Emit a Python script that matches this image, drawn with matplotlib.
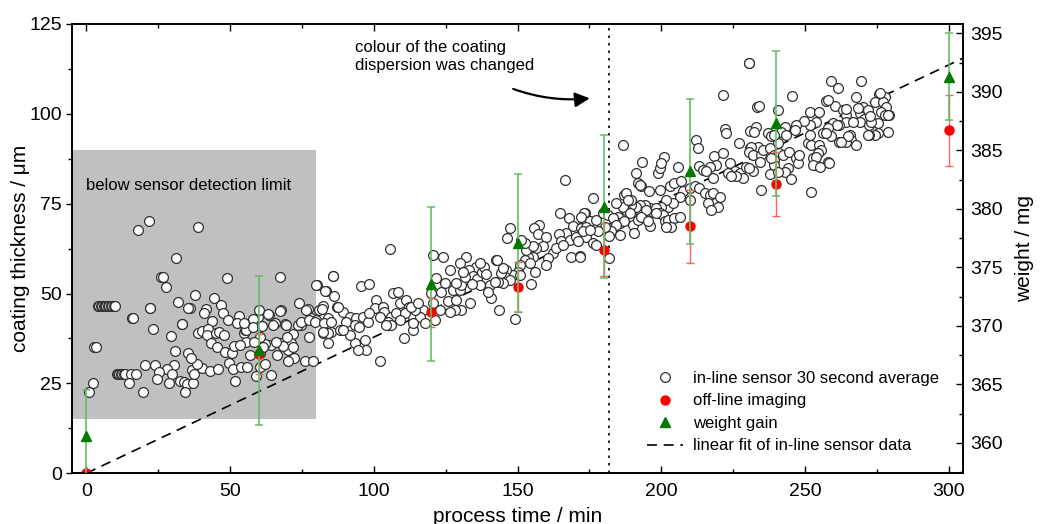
import matplotlib.pyplot as plt
import numpy as np
from matplotlib.lines import Line2D
from matplotlib.patches import Rectangle
from matplotlib.ticker import MultipleLocator

plt.rcParams['font.family'] = ['Liberation Sans', 'DejaVu Sans']

# in-line sensor 30 s averages: (process time / min, coating thickness / um)
inline_pts = [
    # start-up, sensor output stuck in places
    (0.8, 22.6), (2.4, 25.2), (2.8, 35.1), (3.5, 35.1),
    (4.0, 46.5), (4.5, 46.5), (5.0, 46.5), (5.5, 46.5), (6.0, 46.5), (6.5, 46.5), (7.0, 46.5),
    (7.5, 46.5), (8.0, 46.5), (8.5, 46.5), (9.0, 46.5), (9.5, 46.5), (10.0, 46.5),
    (10.5, 27.6), (11.0, 27.6), (11.5, 27.6), (12.0, 27.6), (12.5, 27.6), (13.0, 27.6),
    (13.5, 27.6), (15.5, 27.6), (17.4, 27.6),
    (14.7, 25.2), (15.8, 43.3), (16.2, 43.3), (18.1, 67.7), (19.6, 22.6), (20.3, 30.1),
    # 20 - 55 min
    (21.7, 70.3), (39.0, 68.6), (31.3, 59.9), (25.8, 54.5), (26.6, 54.5), (27.8, 51.7),
    (48.8, 54.4), (37.8, 49.5), (44.3, 48.7), (31.8, 47.6), (36.0, 46.0), (46.9, 46.9),
    (41.5, 45.6), (40.8, 44.7), (47.4, 44.7), (22.3, 46.1), (22.0, 46.1), (23.1, 40.1),
    (33.4, 41.5), (29.6, 38.1), (43.7, 42.5), (49.4, 42.7), (53.2, 43.8), (52.4, 41.7),
    (38.7, 39.1), (40.1, 39.7), (42.4, 40.1), (42.0, 38.4), (45.1, 38.9), (46.3, 39.3),
    (48.0, 38.6), (54.7, 39.1), (55.3, 39.9), (43.4, 36.2), (45.5, 35.0), (48.4, 33.8),
    (50.6, 33.6), (51.3, 35.4), (30.9, 33.9), (35.4, 33.5), (55.4, 36.4), (23.9, 30.1),
    (30.4, 30.2), (28.1, 29.1), (25.3, 28.3), (29.8, 27.6), (24.5, 26.2), (28.9, 25.2),
    (32.5, 25.8), (33.9, 25.3), (35.0, 24.8), (37.0, 25.0), (34.3, 22.7), (36.8, 28.7),
    (37.6, 27.6), (40.1, 29.2), (42.9, 28.4), (45.9, 28.9), (49.8, 30.8), (50.9, 29.0),
    (53.8, 29.5), (51.8, 25.8), (38.5, 30.5), (36.5, 32.0), (35.3, 46.0), (33.3, 41.4),
    # 55 - 85 min
    (67.2, 54.5), (85.9, 54.9), (80.3, 52.3), (83.4, 50.8), (86.3, 49.3), (73.9, 47.3),
    (77.1, 45.8), (67.8, 45.4), (63.7, 44.0), (59.7, 43.6), (57.9, 42.9), (82.3, 46.5),
    (81.1, 45.4), (78.2, 43.1), (80.0, 42.7), (65.8, 41.9), (69.0, 41.4), (71.9, 38.8),
    (74.8, 41.3), (77.6, 38.0), (71.3, 36.2), (67.2, 36.2), (64.3, 35.7), (62.3, 36.0),
    (70.1, 34.3), (72.4, 32.0), (75.9, 31.3), (79.0, 31.1), (70.1, 31.1), (66.4, 32.9),
    (64.3, 27.3), (55.9, 29.6), (53.6, 35.7), (55.6, 39.9), (57.9, 40.8), (54.7, 41.7),
    (60.3, 29.6), (60.3, 33.4), (82.3, 39.0), (85.2, 39.2), (84.0, 36.2), (63.3, 44.2),
    (64.9, 41.2), (67.5, 45.2), (69.3, 41.2), (69.9, 37.8), (73.6, 41.2), (76.5, 45.4),
    (74.7, 42.1), (77.6, 42.6), (79.4, 42.1), (79.9, 52.3), (83.2, 50.7), (85.7, 54.8),
    (82.0, 45.8), (84.0, 43.1), (82.8, 41.7), (85.2, 42.1), (84.0, 38.9), (82.3, 39.2),
    (60.3, 38.0), (61.5, 35.0), (58.5, 36.5), (62.0, 30.5), (68.5, 35.5), (59.0, 27.0),
    (57.0, 33.0), (66.0, 36.5), (72.0, 35.0), (60.0, 45.5), (61.0, 41.0),
    # 85 - 115 min
    (105.8, 62.3), (95.7, 52.0), (98.3, 52.7), (87.3, 46.4), (89.2, 45.0), (91.6, 43.6),
    (93.9, 43.1), (96.2, 43.6), (97.9, 42.2), (100.8, 48.2), (100.3, 45.9), (103.2, 46.4),
    (103.7, 45.0), (106.1, 43.6), (107.8, 44.5), (106.6, 50.1), (108.4, 50.5), (109.0, 47.3),
    (111.3, 48.2), (112.4, 46.4), (114.2, 45.9), (113.6, 43.6), (110.7, 44.5), (88.1, 39.9),
    (93.3, 36.2), (96.8, 37.1), (97.4, 34.3), (94.5, 34.3), (102.0, 31.3), (110.5, 37.6),
    (113.6, 39.9), (90.4, 42.2), (93.3, 41.3), (95.0, 40.8), (91.6, 38.5), (89.2, 39.9),
    (98.5, 44.5), (102.0, 43.6), (104.9, 42.2), (106.1, 41.3), (109.0, 42.7), (104.3, 41.3),
    (87.5, 46.3),
    # 112 - 175 min
    (166.4, 81.6), (147.3, 68.3), (146.5, 65.4), (157.6, 69.1), (155.7, 68.2), (157.1, 66.6),
    (159.8, 65.7), (164.7, 72.5), (167.9, 71.0), (169.3, 68.8), (167.0, 66.8), (164.4, 66.6),
    (165.3, 64.5), (168.2, 65.0), (170.5, 65.8), (173.4, 72.3), (172.8, 70.5), (172.2, 68.2),
    (173.9, 65.8), (171.0, 64.5), (168.7, 60.3), (171.9, 60.5), (162.4, 61.2), (160.6, 59.8),
    (160.0, 58.0), (163.5, 62.6), (165.8, 63.5), (158.9, 63.1), (156.6, 62.6), (155.4, 60.3),
    (153.7, 60.3), (152.5, 59.4), (154.2, 58.4), (153.1, 62.1), (155.4, 63.1), (152.5, 64.0),
    (151.3, 64.9), (150.8, 58.0), (150.2, 56.1), (148.4, 55.2), (150.8, 55.2), (146.1, 56.6),
    (145.5, 54.7), (147.3, 53.8), (145.0, 52.9), (143.2, 53.3), (156.0, 56.1), (154.6, 52.6),
    (149.0, 42.8), (143.5, 45.3), (140.3, 52.4), (140.9, 48.7), (142.6, 59.4), (135.7, 57.5),
    (132.0, 60.3), (124.1, 60.3), (120.6, 60.6), (126.4, 56.6), (124.7, 52.9), (123.5, 50.5),
    (121.8, 54.3), (127.6, 51.0), (129.9, 51.0), (130.5, 52.4), (128.7, 52.9), (120.0, 50.1),
    (120.6, 47.3), (122.9, 45.4), (121.2, 42.7), (117.1, 45.4), (116.0, 43.6), (114.2, 45.4),
    (113.1, 46.4), (115.4, 47.3), (113.7, 41.7), (117.7, 41.7), (125.8, 47.8), (128.7, 48.2),
    (130.5, 45.4), (133.4, 47.5), (128.1, 45.4), (126.4, 45.0), (139.7, 50.5), (142.0, 53.3),
    (144.4, 55.6), (145.0, 57.0), (143.0, 59.3), (133.2, 56.5), (134.5, 55.0), (136.0, 54.0),
    (137.5, 56.0), (138.5, 57.5), (136.8, 52.5), (134.0, 52.8), (131.8, 54.5), (139.0, 55.5),
    (137.0, 58.5), (130.0, 58.5), (131.0, 56.0),
    # 170 - 235 min
    (230.5, 114.1), (221.4, 105.3), (233.3, 102.0), (186.7, 91.3), (193.4, 86.7), (200.9, 88.0),
    (205.8, 85.2), (212.0, 92.6), (212.8, 90.5), (222.3, 95.7), (222.6, 94.8), (227.0, 91.8),
    (231.0, 95.1), (231.0, 90.5), (232.8, 89.5), (218.3, 88.4), (221.4, 89.1), (219.1, 85.8),
    (216.8, 85.3), (213.3, 85.5), (214.5, 84.4), (218.0, 82.1), (215.7, 84.0), (223.8, 86.3),
    (225.5, 84.0), (227.3, 83.5), (228.4, 82.1), (229.6, 85.3), (231.9, 84.0), (226.1, 82.6),
    (223.2, 83.5), (224.4, 82.6), (198.8, 83.5), (199.4, 84.9), (200.0, 86.3), (191.9, 80.7),
    (193.1, 79.8), (191.3, 83.5), (192.6, 80.3), (202.9, 79.8), (204.6, 80.7), (207.0, 81.2),
    (207.5, 78.4), (209.9, 79.3), (211.6, 79.8), (213.3, 79.3), (215.1, 77.9), (216.8, 77.5),
    (218.0, 77.9), (220.3, 77.0), (216.2, 75.1), (219.7, 74.2), (217.4, 73.3), (206.4, 77.0),
    (209.9, 76.1), (202.3, 74.2), (204.1, 75.1), (201.7, 76.1), (200.0, 74.2), (197.1, 72.8),
    (196.0, 73.7), (194.2, 74.7), (192.5, 74.7), (191.3, 74.2), (189.6, 74.7), (187.8, 73.3),
    (186.7, 74.2), (187.2, 77.5), (187.8, 77.9), (189.6, 76.1), (194.8, 73.3), (198.3, 73.7),
    (199.4, 72.4), (200.6, 71.9), (190.2, 71.0), (189.0, 72.4), (185.0, 71.4), (183.8, 69.8),
    (185.5, 69.6), (187.2, 70.1), (190.2, 69.1), (191.9, 70.5), (193.1, 71.4), (196.0, 68.8),
    (198.3, 72.4), (201.2, 70.1), (202.3, 70.5), (204.6, 71.0), (206.4, 71.4), (203.5, 68.6),
    (201.5, 68.6), (190.7, 66.8), (195.4, 70.1), (199.4, 78.9), (176.2, 76.5), (173.3, 72.4),
    (172.2, 71.4), (175.1, 70.1), (177.4, 70.5), (179.7, 72.4), (181.5, 71.9), (183.2, 71.0),
    (184.4, 69.1), (182.6, 67.3), (182.0, 65.9), (185.5, 66.3), (180.3, 68.6), (178.0, 67.3),
    (173.9, 68.6), (172.8, 67.3), (175.1, 67.7), (176.2, 64.0), (177.4, 63.5), (171.6, 60.3),
    (182.0, 59.8), (195.9, 78.4), (188.4, 76.0), (184.3, 75.1),
    # 230 - 280 min
    (230.7, 114.1), (258.9, 109.1), (261.4, 107.3), (269.5, 109.1), (245.5, 105.1), (233.9, 102.3),
    (257.4, 103.6), (260.3, 102.2), (267.8, 104.8), (275.9, 105.4), (277.7, 104.8), (274.2, 103.2),
    (277.1, 103.2), (278.2, 102.0), (251.6, 100.4), (255.0, 100.6), (263.2, 101.1), (264.3, 99.7),
    (269.0, 100.1), (270.1, 102.0), (271.9, 101.1), (270.7, 98.7), (269.0, 97.8), (272.4, 96.9),
    (276.5, 100.6), (277.7, 99.7), (279.4, 99.7), (278.8, 95.0), (275.3, 94.6), (274.2, 94.1),
    (272.4, 94.1), (275.3, 97.4), (264.3, 97.8), (262.0, 96.9), (259.7, 97.4), (261.1, 96.9),
    (258.0, 96.0), (256.2, 94.6), (253.9, 97.8), (251.6, 96.9), (249.6, 98.0), (246.9, 96.9),
    (246.4, 95.5), (242.9, 96.4), (241.7, 95.0), (243.5, 94.1), (240.6, 91.8), (237.1, 94.6),
    (238.2, 93.9), (233.0, 96.4), (232.4, 95.0), (233.6, 90.9), (231.3, 90.9), (230.7, 89.5),
    (231.9, 88.5), (234.8, 88.5), (235.3, 89.9), (237.7, 90.4), (239.4, 88.5), (241.1, 89.0),
    (242.3, 88.5), (244.6, 89.5), (246.9, 87.6), (247.5, 86.2), (244.0, 84.8), (242.9, 83.9),
    (245.2, 82.0), (248.1, 88.5), (251.0, 91.8), (252.1, 91.3), (251.6, 94.1), (255.0, 91.3),
    (255.6, 89.9), (252.7, 87.6), (253.9, 85.8), (258.0, 86.7), (258.5, 86.2), (262.0, 92.2),
    (265.5, 94.1), (266.1, 92.7), (267.8, 91.3), (264.3, 92.2), (237.7, 83.4), (234.8, 78.8),
    (252.1, 78.3), (239.4, 87.1), (239.4, 85.8), (240.6, 83.9), (238.2, 87.6), (240.6, 101.1),
    (239.4, 94.1), (234.2, 86.7), (230.7, 84.8), (276.0, 105.7), (278.9, 99.7), (273.1, 97.8),
    (271.9, 94.1), (266.7, 97.8), (264.9, 93.8), (262.6, 92.3), (259.2, 93.7), (257.4, 94.6),
    (258.0, 103.9), (264.4, 101.3), (268.4, 101.5), (272.5, 99.4), (254.5, 89.0), (253.9, 88.1),
    (252.8, 85.8), (255.1, 85.3),
]

# linear fit of the in-line data (end points)
fit_t = [0, 305]
fit_um = [0, 115.5]

# off-line imaging (um, left axis)
offline_t = [0, 60, 120, 150, 180, 210, 240, 300]
offline_um = [0, 33.1, 44.8, 51.8, 62.2, 68.7, 80.5, 95.4]
offline_err = [0, 5.6, 4.0, 6.9, 7.4, 10.2, 8.8, 9.8]

# weight gain (mg, right axis)
weight_t = [0, 60, 120, 150, 180, 210, 240, 300]
weight_mg = [360.6, 367.9, 373.6, 377.1, 380.2, 383.2, 387.3, 391.3]
weight_err = [3.9, 6.4, 6.6, 5.9, 6.1, 6.2, 6.2, 3.7]

change_t = 181.8  # colour of dispersion changed

pts = np.array(inline_pts)

fig = plt.figure(figsize=(10.4, 5.24), dpi=100)
ax = fig.add_axes([0.0692, 0.0968, 0.8568, 0.8574])
ax2 = ax.twinx()

ax.set_xlim(-5, 305)
ax.set_ylim(0, 125)
ax2.set_ylim(357.4, 395.8)

# grey "below detection limit" region
ax.add_patch(Rectangle((-5, 15), 85, 75, facecolor='#c0c0c0', edgecolor='none', zorder=0))
ax.text(0, 80.2, "below sensor detection limit", fontsize=12, va='center', ha='left')

ax.plot(fit_t, fit_um, color='black', ls=(0, (6, 4)), lw=1.2, zorder=2)
ax.scatter(pts[:, 0], pts[:, 1], s=50, facecolor='white', edgecolor='#303030', lw=0.9, zorder=3)
ax.axvline(change_t, color='black', ls=(0, (1.5, 3)), lw=1.2, zorder=2)

ax.errorbar(offline_t, offline_um, yerr=offline_err, fmt='o', color='#ff0000', ms=6.5,
            ecolor='#ff6060', elinewidth=1.0, capsize=3, capthick=1.0, zorder=4)
ax2.errorbar(weight_t, weight_mg, yerr=weight_err, fmt='^', color='#007a00', ms=7.5,
             ecolor='#66bb66', elinewidth=1.2, capsize=3, capthick=1.1, zorder=4)

ax.annotate("", xy=(176.1, 104.4), xytext=(147.6, 107.2),
            arrowprops=dict(arrowstyle='-|>', connectionstyle='arc3,rad=0.12', color='black',
                            lw=1.6, mutation_scale=22))
ax.text(93.3, 120.5, "colour of the coating\ndispersion was changed", fontsize=12,
        va='top', ha='left', linespacing=1.25)

# ticks
ax.xaxis.set_major_locator(MultipleLocator(50))
ax.xaxis.set_minor_locator(MultipleLocator(25))
ax.yaxis.set_major_locator(MultipleLocator(25))
ax.yaxis.set_minor_locator(MultipleLocator(12.5))
ax2.yaxis.set_major_locator(MultipleLocator(5))
ax2.yaxis.set_minor_locator(MultipleLocator(2.5))

ax.tick_params(axis='x', which='both', direction='in', top=True, labelsize=14, pad=7)
ax.tick_params(axis='x', which='major', length=5, width=1)
ax.tick_params(axis='x', which='minor', length=3, width=1)
ax.tick_params(axis='y', which='both', direction='out', labelsize=14, pad=3, width=1)
ax.tick_params(axis='y', which='major', length=4)
ax.tick_params(axis='y', which='minor', length=3)
ax2.tick_params(axis='y', which='both', direction='in', labelsize=14, pad=5, width=1)
ax2.tick_params(axis='y', which='major', length=5)
ax2.tick_params(axis='y', which='minor', length=3)

for a in (ax, ax2):
    for sp in a.spines.values():
        sp.set_linewidth(1.2)

ax.set_xlabel("process time / min", fontsize=15, labelpad=5)
ax.set_ylabel("coating thickness / \u03bcm", fontsize=15, labelpad=0)
ax2.set_ylabel("weight / mg", fontsize=15, labelpad=9)

handles = [
    Line2D([], [], ls='none', marker='o', ms=7, mfc='white', mec='#303030', mew=0.9),
    Line2D([], [], ls='none', marker='o', ms=6.5, color='#ff0000'),
    Line2D([], [], ls='none', marker='^', ms=7.5, color='#007a00'),
    Line2D([], [], color='black', ls=(0, (6, 4)), lw=1.2),
]
labels = ["in-line sensor 30 second average", "off-line imaging", "weight gain",
          "linear fit of in-line sensor data"]
ax2.legend(handles, labels, loc='upper left', bbox_to_anchor=(0.645, 0.228), frameon=False,
           fontsize=12, borderpad=0, borderaxespad=0, handlelength=2.2, handletextpad=0.55,
           labelspacing=0.45)

fig.savefig("out.png", dpi=100)
